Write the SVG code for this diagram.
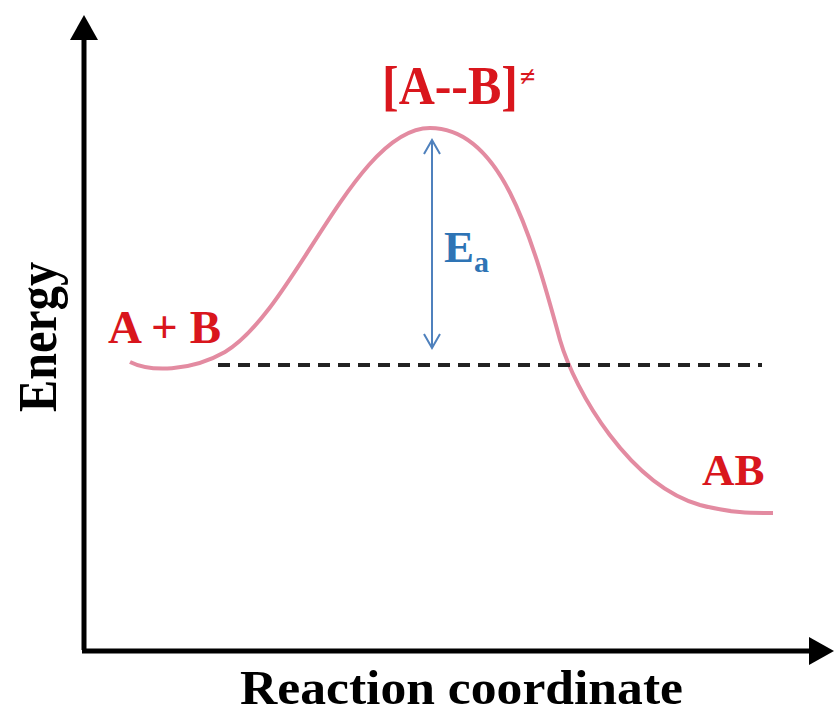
<svg xmlns="http://www.w3.org/2000/svg" width="834" height="713" viewBox="0 0 834 713">
<style>
.lbl{font-family:"Liberation Serif",serif;font-weight:bold;fill:#d9161d}
.ax{font-family:"Liberation Serif",serif;font-weight:bold;fill:#000}
.ea{font-family:"Liberation Serif",serif;font-weight:bold;fill:#2e74b5}
</style>
<rect width="834" height="713" fill="#fff"/>
<g id="axes">
<line x1="84" y1="650" x2="84" y2="38" stroke="#000" stroke-width="5"/>
<polygon points="84,15 70,40 98,40" fill="#000"/>
<line x1="82" y1="651" x2="812" y2="651" stroke="#000" stroke-width="5"/>
<polygon points="834,651 809,637 809,665" fill="#000"/>
</g>
<g id="connectors">
<path id="curve" d="M130,362 C150,372 190,372 225,352 C295,310 355,128 430,128 C500,128 530,230 560,340 C575,392 630,485 700,505 C735,514 755,513 773,513" fill="none" stroke="#e38ba1" stroke-width="4"/>
<line x1="218" y1="365" x2="762" y2="365" stroke="#222" stroke-width="4" stroke-dasharray="12 8"/>
<g id="ea-arrow" stroke="#4f81bd" stroke-width="2" fill="none">
<line x1="432" y1="140" x2="432" y2="348"/>
<polyline points="424,154 432,140 440,154"/>
<polyline points="424,334 432,348 440,334"/>
</g>
</g>
<g id="label-ts"><text class="lbl" x="382" y="104" font-size="54"><tspan textLength="136" lengthAdjust="spacingAndGlyphs">[A--B]</tspan><tspan font-size="28" dx="2" dy="-18">≠</tspan></text></g>
<g id="label-ab-react"><text class="lbl" x="108" y="343" font-size="47">A + B</text></g>
<g id="label-ab-prod"><text class="lbl" x="702" y="485" font-size="45">AB</text></g>
<g id="label-ea"><text class="ea" x="444" y="262" font-size="45">E<tspan font-size="30" dy="10">a</tspan></text></g>
<g id="label-energy"><text class="ax" font-size="54" transform="translate(56,412) rotate(-90)" textLength="150" lengthAdjust="spacingAndGlyphs">Energy</text></g>
<g id="label-rc"><text class="ax" x="240" y="704" font-size="48" textLength="443" lengthAdjust="spacingAndGlyphs">Reaction coordinate</text></g>
</svg>
